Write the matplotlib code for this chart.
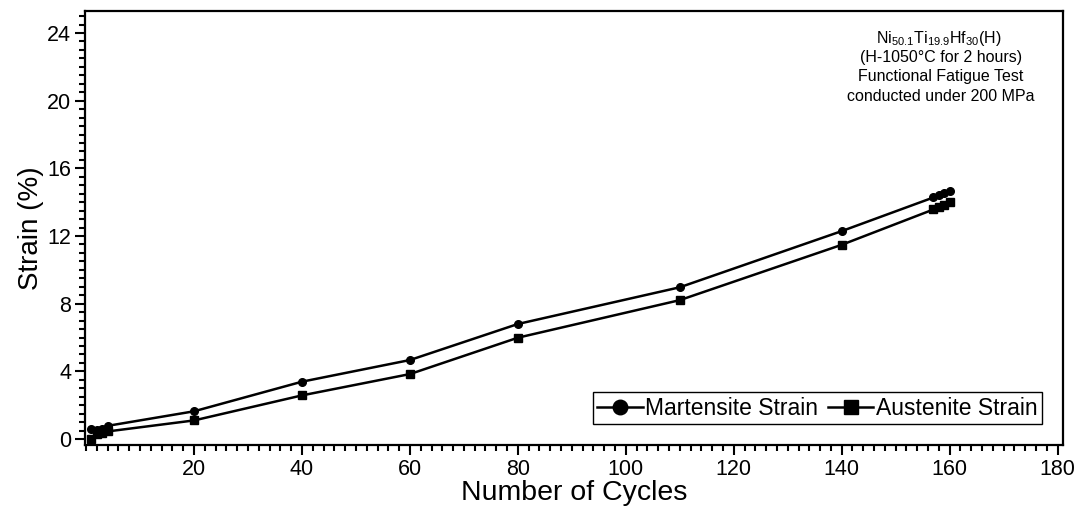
import matplotlib
matplotlib.use("Agg")
import matplotlib.pyplot as plt
from matplotlib.ticker import MultipleLocator

plt.rcParams['font.family'] = ['Liberation Sans', 'DejaVu Sans']
plt.rcParams['mathtext.fontset'] = 'custom'
plt.rcParams['mathtext.rm'] = 'Liberation Sans'
plt.rcParams['mathtext.it'] = 'Liberation Sans:italic'

# data
cycles = [1, 2, 3, 4, 20, 40, 60, 80, 110, 140, 157, 158, 159, 160]
martensite = [0.57, 0.52, 0.62, 0.78, 1.64, 3.39, 4.67, 6.80, 8.97, 12.29, 14.28, 14.42, 14.55, 14.66]
austenite = [0.0, 0.30, 0.36, 0.45, 1.10, 2.58, 3.84, 5.99, 8.21, 11.48, 13.57, 13.72, 13.86, 14.00]

x_major = [20, 40, 60, 80, 100, 120, 140, 160, 180]
y_major = [0, 4, 8, 12, 16, 20, 24]

note_lines = [r'Ni$_{50.1}$Ti$_{19.9}$Hf$_{30}$(H)',
              '(H-1050°C for 2 hours)',
              'Functional Fatigue Test',
              'conducted under 200 MPa']

fig = plt.figure(figsize=(10.83, 5.15), dpi=100)
ax = fig.add_axes([0.0785, 0.136, 0.903, 0.8426])

ax.plot(cycles, martensite, color='black', lw=1.8, marker='o', ms=5.5, label='Martensite Strain')
ax.plot(cycles, austenite, color='black', lw=1.8, marker='s', ms=5.5, label='Austenite Strain')

ax.set_xlim(-0.2, 181)
ax.set_ylim(-0.35, 25.3)
ax.set_xticks(x_major)
ax.set_yticks(y_major)
ax.xaxis.set_minor_locator(MultipleLocator(2))
ax.yaxis.set_minor_locator(MultipleLocator(0.5))
ax.tick_params(which='major', direction='out', length=7, width=1.5, labelsize=15.5, pad=3)
ax.tick_params(which='minor', direction='out', length=4.5, width=1.5)
for s in ax.spines.values():
    s.set_linewidth(1.6)

ax.set_xlabel('Number of Cycles', fontsize=20.5, labelpad=0)
ax.set_ylabel('Strain (%)', fontsize=20, labelpad=2)

# annotation block, top right
baselines = [23.40, 22.28, 21.14, 19.98]
xcent = [158.0, 158.4, 158.4, 158.4]
for line, xc, yb in zip(note_lines, xcent, baselines):
    ax.text(xc, yb, line, fontsize=11.5, ha='center', va='baseline')

leg = ax.legend(loc='lower right', bbox_to_anchor=(0.9785, 0.048), borderaxespad=0,
                ncol=2, fontsize=16.5, markerscale=1.9, handlelength=2.0,
                handletextpad=0.1, columnspacing=0.4, borderpad=0.2,
                fancybox=False, framealpha=1, edgecolor='black')
leg.get_frame().set_linewidth(1.0)

fig.savefig('out.png', dpi=100)
